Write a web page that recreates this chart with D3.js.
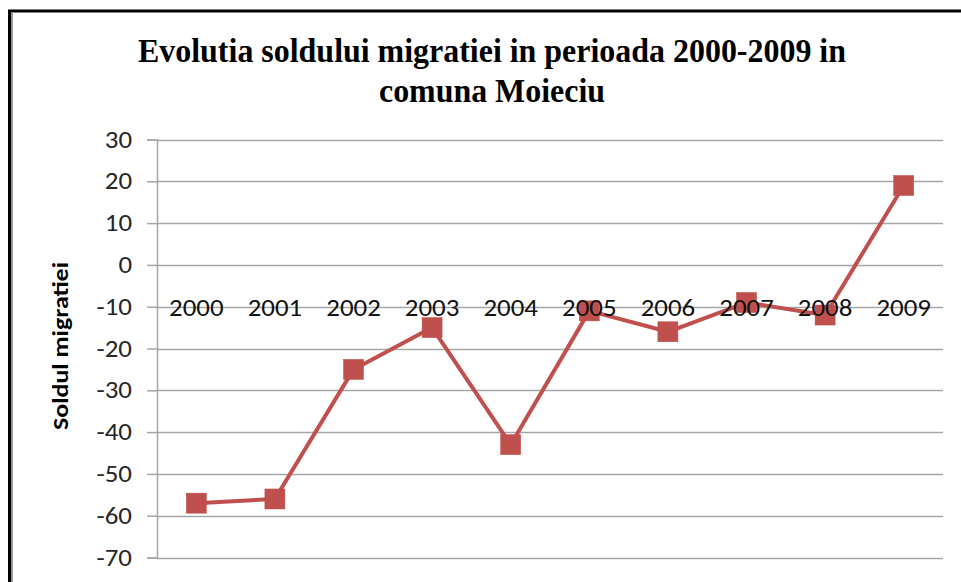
<!DOCTYPE html>
<html><head><meta charset="utf-8">
<script src="https://cdn.jsdelivr.net/npm/d3@7"></script>
<style>html,body{margin:0;padding:0;background:#fff;}svg{display:block;}</style>
</head><body>
<script>
const years = ["2000","2001","2002","2003","2004","2005","2006","2007","2008","2009"];
const values = [-57, -56, -25, -15, -43, -11, -16, -9, -12, 19];
const yTicks = [30, 20, 10, 0, -10, -20, -30, -40, -50, -60, -70];
const titleLines = ["Evolutia soldului migratiei in perioada 2000-2009 in", "comuna Moieciu"];
const yLabel = "Soldul migratiei";

(function () {
const W = 961, H = 582;
const FONT = "Carlito, 'Open Sans', Calibri, sans-serif";
const svg = d3.select("body").append("svg").attr("width", W).attr("height", H);
svg.append("rect").attr("width", W).attr("height", H).attr("fill", "#fff");

// frame
svg.append("line").attr("x1", 9.5).attr("x2", 9.5).attr("y1", 10).attr("y2", H).attr("stroke", "#000").attr("stroke-width", 3);
svg.append("line").attr("x1", 8).attr("x2", W).attr("y1", 11).attr("y2", 11).attr("stroke", "#000").attr("stroke-width", 3);
svg.append("line").attr("x1", 12).attr("x2", 12).attr("y1", 12.5).attr("y2", H).attr("stroke", "#999").attr("stroke-width", 2);

const mL = 157, mR = 943, mT = 139.5, mB = 557.5;
const x = d3.scaleBand().domain(years).range([mL, mR]);
const y = d3.scaleLinear().domain([-70, 30]).range([mB, mT]);

// gridlines
svg.append("g").selectAll("line").data(yTicks).join("line")
  .attr("x1", mL).attr("x2", mR)
  .attr("y1", d => Math.round(y(d)) + 0.5).attr("y2", d => Math.round(y(d)) + 0.5)
  .attr("stroke", "#a6a6a6").attr("stroke-width", 1.5);

// y axis
const yAxis = d3.axisLeft(y).tickValues(yTicks).tickSize(10).tickPadding(15).tickFormat(d3.format("d"));
const gy = svg.append("g").attr("transform", `translate(${mL},0)`).call(yAxis);
gy.select(".domain").attr("stroke", "#a6a6a6").attr("stroke-width", 1.5);
gy.selectAll(".tick line").attr("stroke", "#a6a6a6").attr("stroke-width", 1.5);
gy.selectAll("text").attr("font-family", FONT).attr("font-size", 24).attr("fill", "#262626")
  .text(d => d < 0 ? "-" + Math.abs(d) : d)
  .attr("textLength", function () { return this.getComputedTextLength() * 1.12; })
  .attr("lengthAdjust", "spacingAndGlyphs");

// line
const line = d3.line().x((d, i) => x(years[i]) + x.bandwidth() / 2).y(d => y(d));
svg.append("path").datum(values).attr("d", line).attr("fill", "none")
  .attr("stroke", "#C0504D").attr("stroke-width", 4).attr("stroke-linejoin", "round");

svg.append("g").selectAll("rect").data(values).join("rect")
  .attr("x", (d, i) => x(years[i]) + x.bandwidth() / 2 - 10)
  .attr("y", d => y(d) - 10)
  .attr("width", 20).attr("height", 20)
  .attr("fill", "#C0504D").attr("stroke", "#BE4B48").attr("stroke-width", 0.5);

// x axis at 0 (labels drawn over the series, as in the reference)
const xAxis = d3.axisBottom(x).tickSize(0).tickPadding(34);
const gx = svg.append("g").attr("transform", `translate(0,${y(0)})`).call(xAxis);
gx.select(".domain").remove();
gx.selectAll("text").attr("font-family", FONT).attr("font-size", 24).attr("fill", "#111")
  .attr("textLength", function () { return this.getComputedTextLength() * 1.12; })
  .attr("lengthAdjust", "spacingAndGlyphs");

// title
svg.append("g").selectAll("text").data(titleLines).join("text")
  .attr("x", 492).attr("y", (d, i) => 62 + i * 39.5)
  .attr("text-anchor", "middle")
  .attr("font-family", "'Liberation Serif', 'Times New Roman', serif")
  .attr("font-weight", "bold").attr("font-size", 33).attr("fill", "#000")
  .attr("textLength", (d, i) => i === 0 ? 708 : 226)
  .attr("lengthAdjust", "spacingAndGlyphs")
  .text(d => d);

// y label
svg.append("text")
  .attr("transform", "translate(68,346) rotate(-90)")
  .attr("text-anchor", "middle")
  .attr("font-family", FONT)
  .attr("font-weight", "bold").attr("font-size", 22).attr("fill", "#000")
  .attr("textLength", 168).attr("lengthAdjust", "spacingAndGlyphs")
  .text(yLabel);
})();
</script>
</body></html>
